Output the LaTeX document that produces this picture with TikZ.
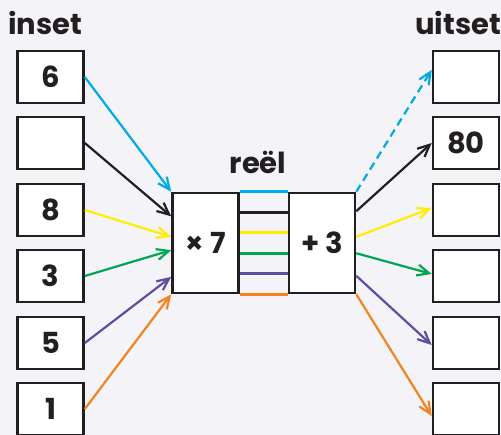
\documentclass[tikz,border=0pt]{standalone}
\usepackage{fontspec}
\setmainfont{Poppins}
\usetikzlibrary{arrows.meta,calc}
\definecolor{bgc}{RGB}{243,243,248}
\definecolor{edgec}{RGB}{35,31,32}
\definecolor{cyanc}{RGB}{0,170,230}
\definecolor{yelc}{RGB}{255,238,0}
\definecolor{grnc}{RGB}{0,166,81}
\definecolor{purc}{RGB}{90,80,160}
\definecolor{orgc}{RGB}{245,130,32}
\begin{document}
\begin{tikzpicture}[x=1pt,y=-1pt,
  box/.style={draw=edgec,line width=2.6pt,fill=white,minimum width=66pt,minimum height=52pt,inner sep=0pt,font=\fontsize{29}{29}\selectfont\bfseries,text=edgec},
  opbox/.style={draw=edgec,line width=2.6pt,fill=white,minimum width=66pt,minimum height=100pt,inner sep=0pt,font=\fontsize{29}{29}\selectfont\bfseries,text=edgec},
  lbl/.style={font=\fontsize{29}{29}\selectfont\bfseries,text=edgec,inner sep=0pt},
  arr/.style={line width=2.2pt,-{Straight Barb[length=12pt,width=11pt,line width=2.2pt]}},
  link/.style={line width=2.6pt}]
\fill[bgc] (0,0) rectangle (501,435);
\useasboundingbox (0,0) rectangle (501,435);
% labels
\node[lbl] (inset) at (45,23) {inset};
\node[lbl] (uitset) at (458,23) {uitset};
\node[lbl] (reel) at (258,162) {reël};
% input boxes
\node[box] (i1) at (50.5,77) {6};
\node[box] (i2) at (50.5,143) {};
\node[box] (i3) at (50.5,210) {8};
\node[box] (i4) at (50.5,276) {3};
\node[box] (i5) at (50.5,343) {5};
\node[box] (i6) at (50.5,409) {1};
% output boxes
\node[box] (o1) at (466,77) {};
\node[box] (o2) at (466,143) {80};
\node[box] (o3) at (466,210) {};
\node[box] (o4) at (466,276) {};
\node[box] (o5) at (466,343) {};
\node[box] (o6) at (466,409) {};
% operation boxes
\node[opbox] (mul) at (205.5,243) {× 7};
\node[opbox] (add) at (322,243) {+ 3};
% entry points on mul
\coordinate (m1) at (mul.north west);
\coordinate (m2) at ($(mul.north west)!0.24!(mul.south west)$);
\coordinate (m3) at ($(mul.north west)!0.44!(mul.south west)$);
\coordinate (m4) at ($(mul.north west)!0.57!(mul.south west)$);
\coordinate (m5) at ($(mul.north west)!0.83!(mul.south west)$);
\coordinate (m6) at (mul.south west);
% links between mul and add
\foreach \f/\c in {0/cyanc,0.2/edgec,0.4/yelc,0.6/grnc,0.8/purc,1/orgc}{
  \draw[link,\c] ($(mul.north east)!\f!(mul.south east)$) -- ($(add.north west)!\f!(add.south west)$);
}
% exit points on add
\coordinate (a1) at (add.north east);
\coordinate (a2) at ($(add.north east)!0.19!(add.south east)$);
\coordinate (a3) at ($(add.north east)!0.44!(add.south east)$);
\coordinate (a4) at ($(add.north east)!0.6!(add.south east)$);
\coordinate (a5) at ($(add.north east)!0.82!(add.south east)$);
\coordinate (a6) at (add.south east);
% target points
\coordinate (t1) at ($(o1.north west)!0.37!(o1.south west)$);
\coordinate (t6) at ($(o6.north west)!0.63!(o6.south west)$);
% input arrows
\draw[arr,cyanc] (i1.east) -- (m1);
\draw[arr,edgec] (i2.east) -- (m2);
\draw[arr,yelc] (i3.east) -- (m3);
\draw[arr,grnc] (i4.east) -- (m4);
\draw[arr,purc] (i5.east) -- (m5);
\draw[arr,orgc] (i6.east) -- (m6);
% output arrows
\draw[arr,cyanc,dash pattern=on 8pt off 5pt] (a1) -- (t1);
\draw[arr,edgec] (a2) -- (o2.west);
\draw[arr,yelc] (a3) -- ($(o3.west)+(0,-2)$);
\draw[arr,grnc] (a4) -- ($(o4.west)+(0,-2)$);
\draw[arr,purc] (a5) -- ($(o5.west)+(0,2)$);
\draw[arr,orgc] (a6) -- (t6);
\end{tikzpicture}
\end{document}
